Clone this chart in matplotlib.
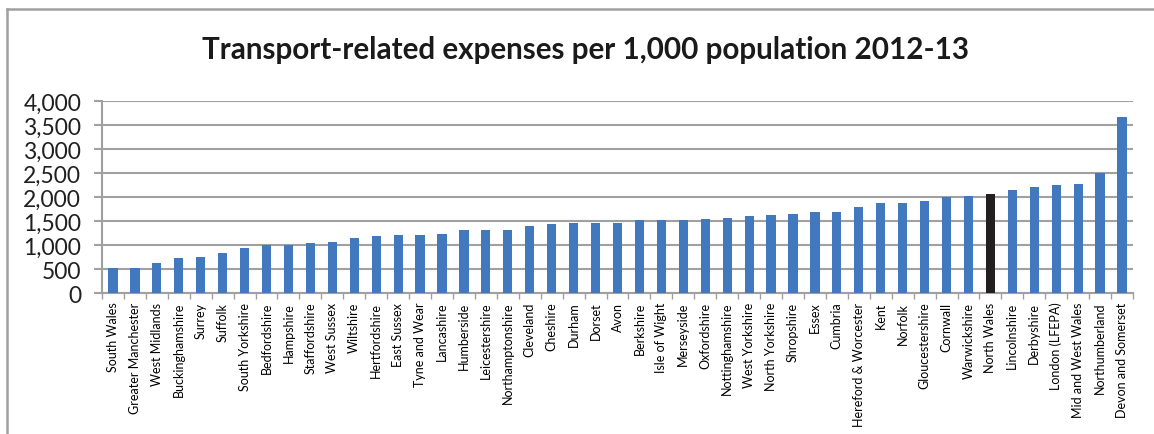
# Transport-related expenses per 1,000 population, 2012-13 (bar chart)

import matplotlib
matplotlib.use('Agg')
import matplotlib.pyplot as plt
from matplotlib.lines import Line2D
from matplotlib.ticker import FuncFormatter, FixedLocator
import numpy as np

# Data
areas = ['South Wales', 'Greater Manchester', 'West Midlands', 'Buckinghamshire',
         'Surrey', 'Suffolk', 'South Yorkshire', 'Bedfordshire', 'Hampshire',
         'Staffordshire', 'West Sussex', 'Wiltshire', 'Hertfordshire', 'East Sussex',
         'Tyne and Wear', 'Lancashire', 'Humberside', 'Leicestershire',
         'Northamptonshire', 'Cleveland', 'Cheshire', 'Durham', 'Dorset', 'Avon',
         'Berkshire', 'Isle of Wight', 'Merseyside', 'Oxfordshire', 'Nottinghamshire',
         'West Yorkshire', 'North Yorkshire', 'Shropshire', 'Essex', 'Cumbria',
         'Hereford & Worcester', 'Kent', 'Norfolk', 'Gloucestershire', 'Cornwall',
         'Warwickshire', 'North Wales', 'Lincolnshire', 'Derbyshire', 'London (LFEPA)',
         'Mid and West Wales', 'Northumberland', 'Devon and Somerset']
expenses = [521, 533, 631, 742, 756, 833, 937, 1006, 1013, 1048, 1062, 1146, 1201,
            1215, 1215, 1229, 1312, 1319, 1326, 1403, 1437, 1458, 1465, 1465, 1521,
            1521, 1521, 1555, 1562, 1618, 1625, 1660, 1694, 1694, 1805, 1875, 1875,
            1930, 2014, 2021, 2069, 2160, 2215, 2250, 2271, 2507, 3674]
highlight = 'North Wales'
y_ticks = [0, 500, 1000, 1500, 2000, 2500, 3000, 3500, 4000]

plt.rcParams['font.family'] = ['Lato', 'DejaVu Sans']

fig = plt.figure(figsize=(11.54, 4.35), dpi=100)
ax = fig.add_axes([102 / 1154, 1 - 294.3 / 435, (1133 - 102) / 1154, (294.3 - 102.3) / 435])

x = np.arange(len(areas))
colors = ['#231F20' if a == highlight else '#4178BE' for a in areas]
ax.bar(x, expenses, width=0.42, color=colors, zorder=3)

ax.set_xlim(-0.5, len(areas) - 0.5)
ax.set_ylim(0, 4000)
ax.set_yticks(y_ticks)
ax.yaxis.set_major_formatter(FuncFormatter(lambda v, p: f'{int(v):,}'))
ax.grid(axis='y', color='#A0A0A0', linewidth=1.5, zorder=0)

ax.set_xticks(x)
ax.set_xticklabels(areas, rotation=90, fontsize=9)
ax.xaxis.set_minor_locator(FixedLocator(np.arange(-0.5, len(areas), 1)))
ax.tick_params(axis='x', which='major', length=0, pad=6)
ax.tick_params(axis='x', which='minor', length=4, color='#A0A0A0', width=1)
ax.tick_params(axis='y', length=6, color='#A0A0A0', width=1.5, pad=9, labelsize=16.5,
               labelcolor='#202020')

for s in ['top', 'right']:
    ax.spines[s].set_visible(False)
for s in ['left', 'bottom']:
    ax.spines[s].set_color('#A0A0A0')
    ax.spines[s].set_linewidth(1.5)

fig.text(0.507, 0.885, 'Transport-related expenses per 1,000 population 2012-13',
         ha='center', va='center', fontsize=21.3, fontweight='bold', color='#1A1A1A')

# outer chart frame (top and left edges visible)
fig.add_artist(Line2D([7 / 1154, 1], [1 - 10 / 435, 1 - 10 / 435], color='#A0A0A0', linewidth=1.8))
fig.add_artist(Line2D([7 / 1154, 7 / 1154], [0, 1 - 10 / 435], color='#A0A0A0', linewidth=1.8))

fig.savefig('out.png', dpi=100)
